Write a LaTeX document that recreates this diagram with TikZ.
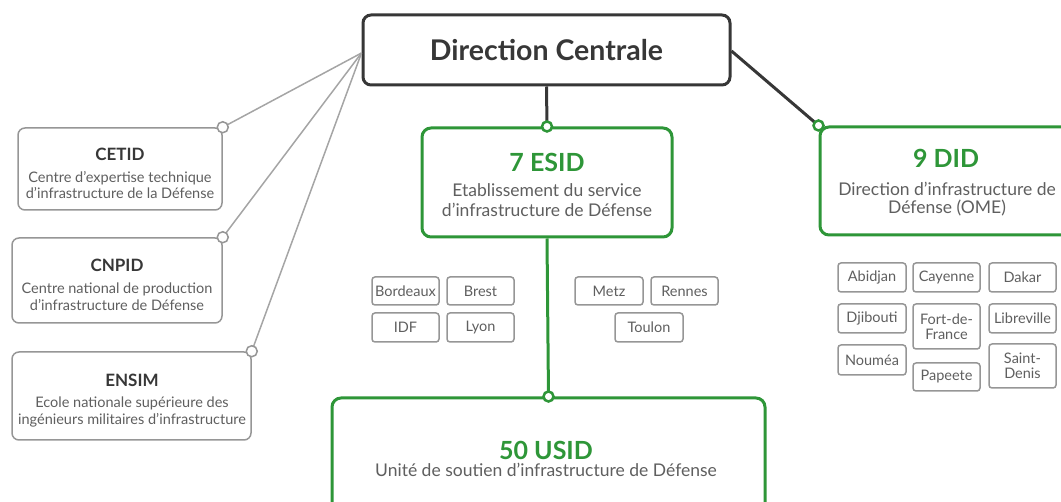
\documentclass[tikz,border=0pt]{standalone}
\usepackage{fontspec}
\setmainfont{Lato}
\definecolor{vert}{RGB}{46,150,56}
\definecolor{fonce}{RGB}{55,55,55}
\definecolor{grisbord}{RGB}{150,150,150}
\definecolor{gristexte}{RGB}{95,95,95}
\definecolor{grisligne}{RGB}{165,165,165}
\begin{document}
\begin{tikzpicture}[x=1pt,y=-1pt,
  mainbox/.style={draw=fonce, line width=3pt, rounded corners=8pt, inner sep=0pt, fill=white},
  greenbox/.style={draw=vert, line width=3pt, rounded corners=9pt, inner sep=0pt, fill=white},
  sidebox/.style={draw=grisbord, line width=1.5pt, rounded corners=7pt, inner sep=0pt, fill=white},
  citybox/.style={draw=grisbord, line width=1.5pt, rounded corners=3pt, inner sep=0pt, fill=white,
    text=gristexte, font=\fontsize{14.5}{15.5}\selectfont, align=center},
  bigtitle/.style={anchor=base, inner sep=0pt, text=vert, font=\fontsize{25}{28}\selectfont\bfseries},
  subtext/.style={anchor=base, inner sep=0pt, text=gristexte, font=\fontsize{17.5}{20}\selectfont},
  sidetitle/.style={anchor=base, inner sep=0pt, text=fonce, font=\fontsize{17}{20}\selectfont\bfseries},
  sidetext/.style={anchor=base, inner sep=0pt, text=gristexte, font=\fontsize{14.5}{17}\selectfont},
  greenlink/.style={draw=vert, line width=3pt},
  darklink/.style={draw=fonce, line width=3pt},
  graylink/.style={draw=grisligne, line width=1.5pt},
  greendot/.style={draw=vert, line width=2.5pt, fill=white},
  graydot/.style={draw=grisbord, line width=1.5pt, fill=white}
]
\clip (0,0) rectangle (1061,502);
\useasboundingbox (0,0) rectangle (1061,502);

% boxes
\node[mainbox, minimum width=367pt, minimum height=70pt] (dc) at (546.5,50) {};
\node[greenbox, minimum width=250pt, minimum height=109pt] (esid) at (547,182.5) {};
\node[greenbox, minimum width=433pt, minimum height=130pt] (usid) at (548.5,463) {};
\node[greenbox, minimum width=255pt, minimum height=108pt] (did) at (947.5,181) {};
\node[sidebox, minimum width=204pt, minimum height=82pt] (cetid) at (120,169) {};
\node[sidebox, minimum width=210pt, minimum height=85pt] (cnpid) at (117,280.5) {};
\node[sidebox, minimum width=239pt, minimum height=88pt] (ensim) at (131.5,396) {};

% texts
\node[anchor=base, inner sep=0pt, text=fonce, font=\fontsize{28.5}{31}\selectfont\bfseries] (dct) at (546.5,61) {Direction Centrale};

\node[bigtitle] (esidt) at (547,172) {7 ESID};
\node[subtext] (esids1) at (547,197) {Etablissement du service};
\node[subtext] (esids2) at (547,217) {d’infrastructure de Défense};

\node[bigtitle] (usidt) at (546,460) {50 USID};
\node[subtext] (usids) at (546,477) {Unité de soutien d’infrastructure de Défense};

\node[bigtitle] (didt) at (946,168) {9 DID};
\node[subtext] (dids1) at (947,196) {Direction d’infrastructure de};
\node[subtext] (dids2) at (947,214) {Défense (OME)};

\node[sidetitle] (cetidt) at (120,161) {CETID};
\node[sidetext] (cetids1) at (120,183) {Centre d’expertise technique};
\node[sidetext] (cetids2) at (120,199) {d’infrastructure de la Défense};

\node[sidetitle] (cnpidt) at (117,272) {CNPID};
\node[sidetext] (cnpids1) at (117,294) {Centre national de production};
\node[sidetext] (cnpids2) at (117,311) {d’infrastructure de Défense};

\node[sidetitle] (ensimt) at (132,387) {ENSIM};
\node[sidetext] (ensims1) at (132,408) {Ecole nationale supérieure des};
\node[sidetext] (ensims2) at (132,425) {ingénieurs militaires d’infrastructure};

% city boxes ESID
\node[citybox, minimum width=67pt, minimum height=28pt] (bordeaux) at (405.5,291) {Bordeaux};
\node[citybox, minimum width=67pt, minimum height=28pt] (brest) at (480.5,291) {Brest};
\node[citybox, minimum width=67pt, minimum height=29pt] (idf) at (405.5,327.5) {IDF};
\node[citybox, minimum width=67pt, minimum height=29pt] (lyon) at (480.5,327.5) {Lyon};
\node[citybox, minimum width=68pt, minimum height=28pt] (metz) at (609,291) {Metz};
\node[citybox, minimum width=67pt, minimum height=28pt] (rennes) at (684.5,291) {Rennes};
\node[citybox, minimum width=68pt, minimum height=29pt] (toulon) at (649,327.5) {Toulon};

% city boxes DID
\node[citybox, minimum width=68pt, minimum height=29pt] (abidjan) at (872,277.5) {Abidjan};
\node[citybox, minimum width=67pt, minimum height=29pt] (cayenne) at (946.5,277.5) {Cayenne};
\node[citybox, minimum width=67pt, minimum height=29pt] (dakar) at (1022.5,277.5) {Dakar};
\node[citybox, minimum width=68pt, minimum height=29pt] (djibouti) at (872,318.5) {Djibouti};
\node[citybox, minimum width=67pt, minimum height=45pt] (fdf) at (946.5,326.5) {Fort-de-\\France};
\node[citybox, minimum width=67pt, minimum height=29pt] (libreville) at (1022.5,318.5) {Libreville};
\node[citybox, minimum width=68pt, minimum height=30pt] (noumea) at (872,360) {Nouméa};
\node[citybox, minimum width=67pt, minimum height=28pt] (papeete) at (946.5,377) {Papeete};
\node[citybox, minimum width=67pt, minimum height=44pt] (saintdenis) at (1022.5,366) {Saint-\\Denis};

% connectors
\coordinate (dcw) at ([yshift=-3pt]dc.west);
\coordinate (dce) at ([yshift=-1pt]dc.east);
\draw[graylink] (dcw) -- (cetid.north east);
\draw[graylink] (dcw) -- (cnpid.north east);
\draw[graylink] (dcw) -- (ensim.north east);
\draw[darklink] (dc.south) -- (esid.north);
\draw[darklink] (dce) -- (did.north west);
\draw[greenlink] (esid.south) -- (usid.north);

% connector dots
\draw[graydot] (cetid.north east) circle (5.5pt);
\draw[graydot] (cnpid.north east) circle (5.5pt);
\draw[graydot] (ensim.north east) circle (5.5pt);
\draw[greendot] (esid.north) circle (5pt);
\draw[greendot] (did.north west) circle (5pt);
\draw[greendot] (usid.north) circle (5pt);
\end{tikzpicture}
\end{document}
